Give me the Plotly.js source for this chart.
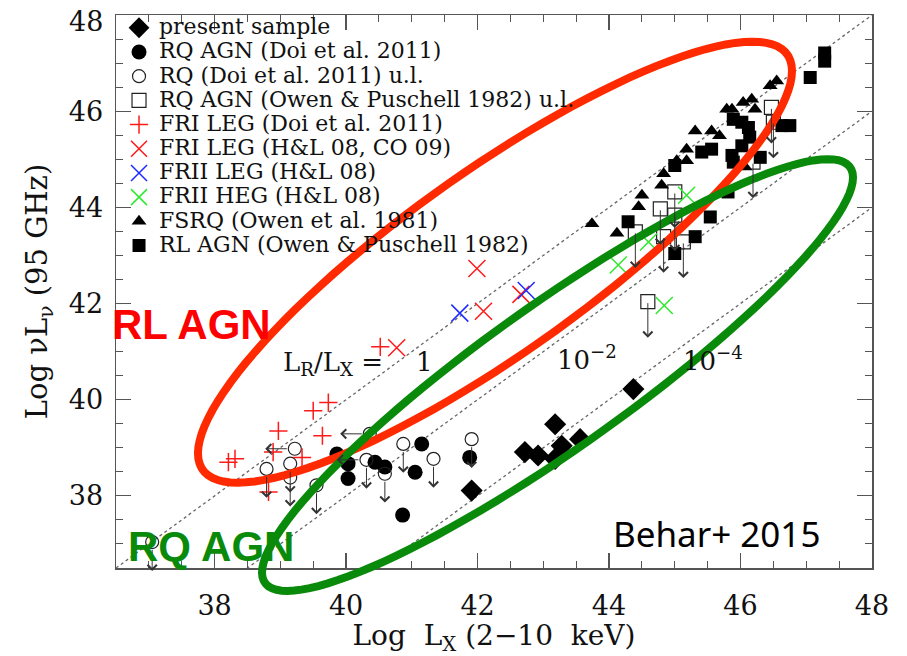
<!DOCTYPE html>
<html><head><meta charset="utf-8">
<script src="https://cdn.plot.ly/plotly-3.0.1.min.js"></script>
<style>html,body{margin:0;padding:0;background:#fff}</style>
</head><body><div id="chart" style="width:907px;height:656px"></div>
<script>
// ---- data (Log Lx, Log nuL_nu) ----
const presentX = [41.91, 42.72, 42.92, 43.18, 43.18, 43.28, 43.56, 44.37];
const presentY = [38.11, 38.91, 38.84, 39.49, 38.77, 39.04, 39.18, 40.22];

const doiRqX = [39.86, 40.03, 40.03, 40.44, 40.59, 41.15, 41.05, 40.86, 41.88];
const doiRqY = [38.87, 38.67, 38.36, 38.70, 38.60, 39.08, 38.49, 37.60, 38.80];

const doiUlX = [37.05, 38.79, 39.15, 39.15, 39.22, 39.55, 40.36, 40.31, 40.59, 40.87, 41.33, 41.91];
const doiUlY = [37.04, 38.56, 38.67, 38.38, 38.98, 38.22, 39.29, 38.75, 38.46, 39.08, 38.77, 39.18];
const doiUlDir = ['down','down','down','down','left','down','left','both','down','down','down','down'];

const owenUlX = [46.47, 46.50, 45.00, 44.78, 45.00, 44.83, 45.13, 44.40, 46.19, 44.59];
const owenUlY = [46.08, 45.77, 44.32, 43.97, 43.84, 43.39, 43.28, 43.49, 44.94, 42.04];

const friDoiX = [40.52, 39.73, 39.50, 38.97, 39.64, 38.31, 38.21, 38.89, 39.33, 38.82];
const friDoiY = [41.10, 39.94, 39.77, 39.35, 39.25, 38.77, 38.70, 38.91, 38.80, 38.08];

const friHLX = [41.99, 42.09, 42.66, 40.77];
const friHLY = [42.73, 41.84, 42.19, 41.08];

const friiLegX = [41.73, 42.74];
const friiLegY = [41.80, 42.27];

const friiHegX = [45.18, 44.60, 44.14, 44.84];
const friiHegY = [44.25, 43.28, 42.80, 41.96];

const fsrqX = [43.74, 44.12, 44.45, 44.50, 44.80, 44.83, 45.03, 45.18, 45.18, 45.31, 45.56, 45.68, 45.79, 45.87, 46.04, 46.17, 46.22, 46.45, 46.55, 46.07];
const fsrqY = [43.66, 43.46, 44.01, 44.25, 44.46, 44.70, 44.97, 44.97, 45.21, 45.59, 45.59, 45.49, 46.04, 46.04, 46.18, 46.25, 46.04, 46.53, 46.63, 44.84];

const rlX = [44.29, 45.00, 45.41, 45.56, 45.89, 46.02, 46.12, 46.14, 45.87, 45.89, 46.02, 46.30, 46.75, 46.63, 45.54, 45.81, 45.31, 45.00, 47.06, 47.28, 47.28];
const rlY = [43.70, 44.87, 45.15, 45.21, 45.83, 45.77, 45.66, 45.46, 45.08, 44.94, 45.28, 45.04, 45.70, 45.70, 43.80, 44.32, 43.39, 43.04, 46.70, 47.04, 47.21];

// L_R/L_X ratio lines (log offsets) and their labels
const ratioOffsets = [0, 2, 4];
const ratioLabels = ['L<sub>R</sub>/L<sub>X</sub>\u00a0=\u00a0\u00a0\u00a0\u00a01', '10<sup>\u22122</sup>', '10<sup>\u22124</sup>'];
const ratioLabelX = [40.18, 43.66, 45.58];
const ratioLabelY = [40.76, 40.86, 40.84];

// tick labels
const yTickVals = [38, 40, 42, 44, 46];
const yTopLabel = '48';

const legendNames = [
  'present sample',
  'RQ AGN (Doi et al. 2011)',
  'RQ (Doi et al. 2011) u.l.',
  'RQ AGN (Owen &amp; Puschell 1982) u.l.',
  'FRI LEG (Doi et al. 2011)',
  'FRI LEG (H&amp;L 08, CO 09)',
  'FRII LEG (H&amp;L 08)',
  'FRII HEG (H&amp;L 08)',
  'FSRQ (Owen et al. 1981)',
  'RL AGN (Owen &amp; Puschell 1982)'
];

// ---- axes ----
const XR = [36.5, 48], YR = [36.5, 48];
const ulLenY = 0.6, ulLenX = 0.45, owenLen = 0.75;

const nm = s => '<span style="font-size:22px">' + s + '</span>';

const traces = [];
ratioOffsets.forEach(o => {
  traces.push({x: XR, y: XR.map(v => v - o), mode: 'lines', showlegend: false, hoverinfo: 'skip',
    line: {color: '#666', width: 1.3, dash: 'dot'}});
});
function sc(x, y, name, marker) {
  traces.push({x: x, y: y, name: nm(name), mode: 'markers', type: 'scatter', marker: marker, cliponaxis: false});
}
sc(presentX, presentY, legendNames[0], {symbol: 'diamond', size: 17, color: '#000'});
sc(doiRqX, doiRqY, legendNames[1], {symbol: 'circle', size: 15, color: '#000'});
sc(doiUlX, doiUlY, legendNames[2], {symbol: 'circle-open', size: 13, color: '#222', line: {width: 1.2}});
sc(owenUlX, owenUlY, legendNames[3], {symbol: 'square-open', size: 14, color: '#222', line: {width: 1.2}});
sc(friDoiX, friDoiY, legendNames[4], {symbol: 'cross-thin-open', size: 13, color: '#ff1a1a', line: {width: 1.5, color: '#ff1a1a'}});
sc(friHLX, friHLY, legendNames[5], {symbol: 'x-thin-open', size: 17, color: '#ff1a1a', line: {width: 1.5, color: '#ff1a1a'}});
sc(friiLegX, friiLegY, legendNames[6], {symbol: 'x-thin-open', size: 17, color: '#1f2bff', line: {width: 1.5, color: '#1f2bff'}});
sc(friiHegX, friiHegY, legendNames[7], {symbol: 'x-thin-open', size: 17, color: '#2fe82f', line: {width: 1.5, color: '#2fe82f'}});
sc(fsrqX, fsrqY, legendNames[8], {symbol: 'triangle-up', size: 13, color: '#000'});
sc(rlX, rlY, legendNames[9], {symbol: 'square', size: 13, color: '#000'});

// ---- upper-limit arrows ----
const annotations = [];
function arrow(x0, y0, x1, y1, st) {
  annotations.push({x: x1, y: y1, ax: x0, ay: y0, xref: 'x', yref: 'y', axref: 'x', ayref: 'y',
    text: '', showarrow: true, arrowhead: 4, arrowsize: 1.8, arrowwidth: 1, arrowcolor: '#333', startstandoff: st, standoff: 0});
}
doiUlX.forEach((x, i) => {
  const y = doiUlY[i], d = doiUlDir[i];
  if (d === 'down' || d === 'both') arrow(x, y, x, y - ulLenY, 6.5);
  if (d === 'left' || d === 'both') arrow(x, y, x - ulLenX, y, 6.5);
});
owenUlX.forEach((x, i) => arrow(x, owenUlY[i], x, owenUlY[i] - owenLen, 0));

ratioLabels.forEach((t, i) => {
  annotations.push({x: ratioLabelX[i], y: ratioLabelY[i], xref: 'x', yref: 'y', text: t, showarrow: false,
    xanchor: 'center', yanchor: 'middle', font: {family: 'DejaVu Serif', size: 26, color: '#111'}});
});
annotations.push({x: 0.1005, y: 0.4406, xref: 'paper', yref: 'paper', text: '<b>RL AGN</b>', showarrow: false,
  xanchor: 'center', yanchor: 'middle', font: {family: 'Liberation Sans', size: 42, color: '#ff0000'}});
annotations.push({x: 0.1263, y: 0.0383, xref: 'paper', yref: 'paper', text: '<b>RQ AGN</b>', showarrow: false,
  xanchor: 'center', yanchor: 'middle', font: {family: 'Liberation Sans', size: 42, color: '#0a8a0a'}});
annotations.push({x: 0.7937, y: 0.062, xref: 'paper', yref: 'paper', text: 'Behar+ 2015', showarrow: false,
  xanchor: 'center', yanchor: 'middle', font: {family: 'Noto Sans', size: 35, color: '#000'}});
// top y tick label, placed just inside the figure so it is not cut
annotations.push({x: -0.0145, y: 0.988, xref: 'paper', yref: 'paper', text: yTopLabel, showarrow: false,
  xanchor: 'right', yanchor: 'middle', font: {family: 'DejaVu Serif', size: 27, color: '#111'}});

// ---- hand-drawn ellipses (center, half-width, half-height, shear in data units) ----
const redEllipse = {cx: 42.265, cy: 42.86, w: 4.518, h: 2.285, shear: 0.880, color: '#ff2a00'};
const greenEllipse = {cx: 43.216, cy: 40.513, w: 4.495, h: 1.810, shear: 0.914, color: '#0a8a0a'};
function ellipsePath(e) {
  const pts = [];
  for (let i = 0; i < 120; i++) {
    const t = 2 * Math.PI * i / 120;
    const x = e.cx + e.w * Math.cos(t);
    const y = e.cy + e.shear * e.w * Math.cos(t) + e.h * Math.sin(t);
    pts.push(((x - XR[0]) / (XR[1] - XR[0])).toFixed(5) + ',' + ((y - YR[0]) / (YR[1] - YR[0])).toFixed(5));
  }
  return 'M' + pts.join('L') + 'Z';
}
const shapes = [redEllipse, greenEllipse].map(e => ({type: 'path', xref: 'paper', yref: 'paper', layer: 'above',
  path: ellipsePath(e), line: {color: e.color, width: 8}}));

const tickFont = {family: 'DejaVu Serif', size: 27, color: '#111'};
const axisCommon = {
  dtick: 2, tick0: 0, ticks: 'inside', ticklen: 15, tickwidth: 1.2, tickcolor: '#555',
  showline: true, linecolor: '#555', linewidth: 1.5, mirror: 'allticks', showgrid: false, zeroline: false,
  tickfont: tickFont, automargin: false, ticklabeloverflow: 'allow',
  minor: {dtick: 0.5, tick0: 0, ticks: 'inside', ticklen: 7, tickwidth: 1, tickcolor: '#555', showgrid: false}
};
const layout = {
  width: 907, height: 656,
  margin: {l: 116, r: 35, t: 14, b: 88},
  paper_bgcolor: '#fff', plot_bgcolor: '#fff',
  showlegend: true,
  legend: {x: 0.004, y: 1.006, xanchor: 'left', yanchor: 'top', bgcolor: 'rgba(0,0,0,0)', borderwidth: 0,
    font: {family: 'DejaVu Serif', size: 16.3, color: '#111'}, tracegroupgap: 0},
  xaxis: Object.assign({}, axisCommon, {range: XR, ticklabelstandoff: 13,
    title: {text: 'Log\u00a0\u00a0L<sub>X</sub>\u00a0(2\u221210\u00a0\u00a0keV)', font: {family: 'DejaVu Serif', size: 28, color: '#111'}, standoff: 6}}),
  yaxis: Object.assign({}, axisCommon, {range: YR, ticklabelstandoff: 6, tickmode: 'array', tickvals: yTickVals,
    ticktext: yTickVals.map(String),
    title: {text: 'Log\u00a0\u03bdL<sub>\u03bd</sub>\u00a0(95\u00a0GHz)', font: {family: 'DejaVu Serif', size: 29, color: '#111'}, standoff: 12}}),
  annotations: annotations,
  shapes: shapes
};
Plotly.newPlot('chart', traces, layout, {displayModeBar: false, staticPlot: true});
</script></body></html>
